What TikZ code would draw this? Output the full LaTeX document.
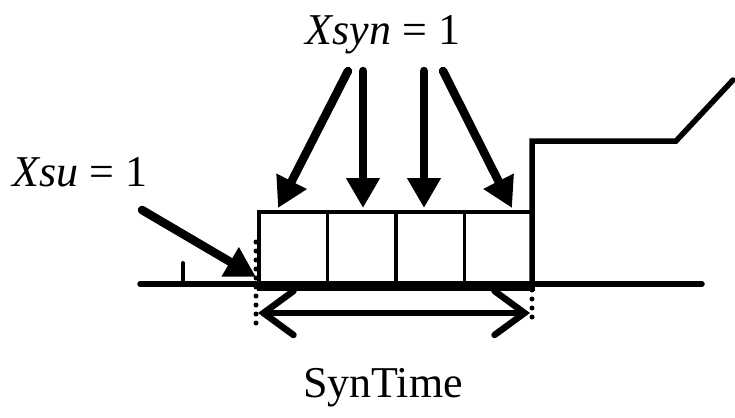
\documentclass[tikz,border=0pt]{standalone}
\usepackage{fontspec}
\setmainfont{Liberation Serif}
\usetikzlibrary{arrows.meta}
\begin{document}
\begin{tikzpicture}[x=1pt,y=-1pt,
  cell/.style={draw,line width=3.5pt,minimum width=68.5pt,minimum height=74pt,inner sep=0pt,anchor=north west},
  bigarrow/.style={line width=8.5pt,line cap=round,-{Triangle[length=30pt,width=32pt]}},
  sig/.style={line width=5.5pt,line cap=round,line join=miter},
  dots/.style={line width=5pt,line cap=round,dash pattern=on 0pt off 9pt},
  span/.style={line width=6.5pt,line cap=round,{Straight Barb[length=30pt,width=44pt,line cap=round]}-{Straight Barb[length=30pt,width=44pt,line cap=round]}},
  lbl/.style={font=\fontsize{44}{48}\selectfont,inner sep=0pt}]
\useasboundingbox (0,0) rectangle (735,417);
% cells
\node[cell] (c1) at (257,210) {};
\node[cell] (c2) at (325.5,210) {};
\node[cell] (c3) at (394,210) {};
\node[cell] (c4) at (462.5,210) {};
% baseline
\coordinate (b0) at (140,284);
\coordinate (b1) at (702,284);
\draw[sig] (b0) -- (b1);
\draw[line width=7.5pt] (c1.south west) -- (c4.south east);
% tick
\coordinate (t0) at (183,284);
\coordinate (t1) at (183,263);
\draw[line width=4pt,line cap=round] (t0) -- (t1);
% right signal
\coordinate (r0) at (532,284);
\coordinate (r1) at (532,141);
\coordinate (r2) at (676,141);
\coordinate (r3) at (733,80);
\draw[sig] (r0) -- (r1) -- (r2) -- (r3);
% dotted lines
\coordinate (dl0) at (256,242);
\coordinate (dl1) at (256,325);
\coordinate (dr0) at (532,290);
\coordinate (dr1) at (532,325);
\draw[dots] (dl0) -- (dl1);
\draw[dots] (dr0) -- (dr1);
% span arrow
\coordinate (s0) at (258,313);
\coordinate (s1) at (530,313);
\draw[span] (s0) -- (s1);
% labels
\node[lbl] (xsyn) at (383,35) {\textit{Xsyn} = 1};
\node[lbl] (xsu) at (80,172) {\textit{Xsu} = 1};
\node[lbl] (syn) at (383,388) {SynTime};
% arrows from Xsyn
\coordinate (a1s) at (348,71); \coordinate (a1e) at (278,208);
\coordinate (a2s) at (363,71); \coordinate (a2e) at (363,208);
\coordinate (a3s) at (424,71); \coordinate (a3e) at (424,208);
\coordinate (a4s) at (443,71); \coordinate (a4e) at (512,208);
\draw[bigarrow] (a1s) -- (a1e);
\draw[bigarrow] (a2s) -- (a2e);
\draw[bigarrow] (a3s) -- (a3e);
\draw[bigarrow] (a4s) -- (a4e);
% Xsu arrow
\coordinate (us) at (142,210);
\coordinate (ue) at (256,277);
\draw[bigarrow] (us) -- (ue);
\end{tikzpicture}
\end{document}
